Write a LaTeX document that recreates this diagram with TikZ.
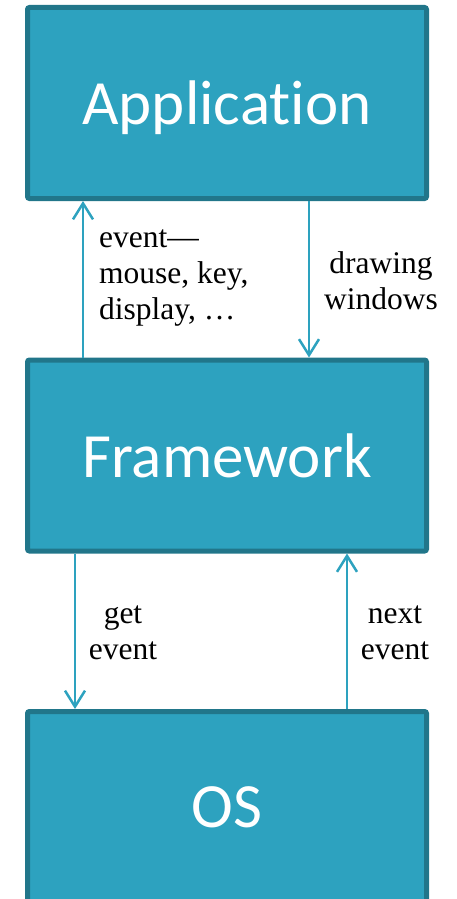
\documentclass[tikz,border=0pt]{standalone}
\usepackage{fontspec}
\setmainfont{Liberation Serif}
\newfontfamily\boxfont[Ligatures=NoCommon]{Carlito}
\usetikzlibrary{arrows.meta}
\definecolor{boxfill}{HTML}{2DA2BF}
\definecolor{boxline}{HTML}{21768A}
\definecolor{arrcol}{HTML}{2DA2BF}
\tikzset{
  layerbox/.style={draw=boxline, fill=boxfill, line width=5pt, rounded corners=2pt,
    minimum width=399pt, minimum height=191pt, inner sep=0pt, text depth=0pt,
    text=white, font=\boxfont\fontsize{63pt}{70pt}\selectfont},
  arr/.style={draw=arrcol, line width=2.5pt, -{Straight Barb[length=16pt,width=20pt,line width=2.5pt]}},
  lbl/.style={inner sep=0pt, font=\fontsize{31.5pt}{36pt}\selectfont, text=black}
}
\begin{document}
\begin{tikzpicture}[x=1pt,y=-1pt]
\useasboundingbox (0,0) rectangle (457,899);
\begin{scope}
\clip (0,0) rectangle (457,899);
\node[layerbox] (app) at (227,103) {Application};
\node[layerbox] (fw) at (227,455.5) {Framework};
\node[layerbox] (os) at (227,807) {OS};
\end{scope}
\coordinate (x1) at (83,0);
\coordinate (x2) at (309,0);
\coordinate (x3) at (75,0);
\coordinate (x4) at (347,0);
\draw[arr] (fw.north -| x1) -- (app.south -| x1);
\draw[arr] (app.south -| x2) -- (fw.north -| x2);
\draw[arr] (fw.south -| x3) -- (os.north -| x3);
\draw[arr] (os.north -| x4) -- (fw.south -| x4);
\node[lbl, anchor=west, align=left] (l1) at (99,278) {event—\\mouse, key,\\display, …};
\node[lbl, align=center] (l2) at (381,281) {drawing\\windows};
\node[lbl, align=center] (l3) at (123,633) {get\\event};
\node[lbl, align=center] (l4) at (395,633) {next\\event};
\end{tikzpicture}
\end{document}
